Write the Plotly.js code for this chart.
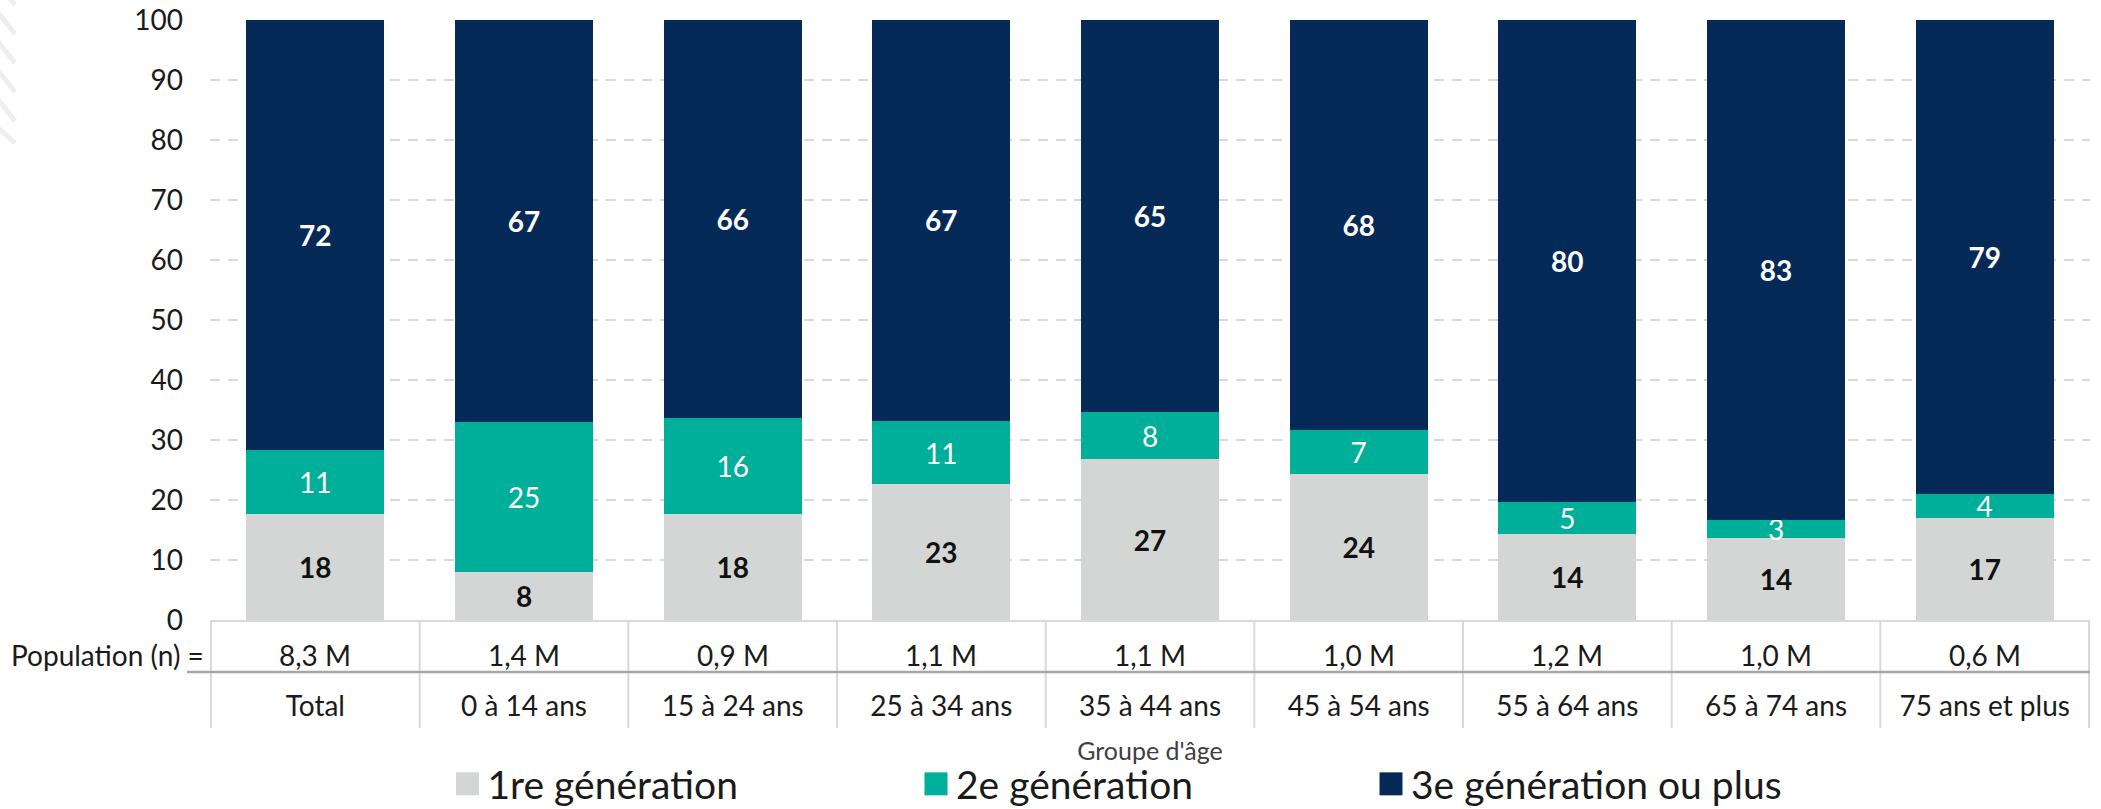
<!DOCTYPE html>
<html>
<head>
<meta charset="utf-8">
<script src="https://cdn.plot.ly/plotly-3.0.1.min.js"></script>
<style>
  html, body { margin: 0; padding: 0; background: #ffffff; }
  #chart { width: 2101px; height: 809px; }
</style>
</head>
<body>
<div id="chart"></div>
<script>
// ---- Data ----
const categories = ['Total', '0 à 14 ans', '15 à 24 ans', '25 à 34 ans', '35 à 44 ans',
                    '45 à 54 ans', '55 à 64 ans', '65 à 74 ans', '75 ans et plus'];
const population = ['8,3 M', '1,4 M', '0,9 M', '1,1 M', '1,1 M', '1,0 M', '1,2 M', '1,0 M', '0,6 M'];
const gen1 = [17.6, 8.0, 17.6, 22.6, 26.8, 24.4, 14.4, 13.6, 17.0];
const gen2 = [10.8, 25.0, 16.1, 10.6, 7.8, 7.3, 5.2, 3.1, 4.0];
const gen3 = [71.6, 67.0, 66.3, 66.8, 65.4, 68.3, 80.4, 83.3, 79.0];
const seriesNames = ['1re génération', '2e génération', '3e génération ou plus'];
const populationLabel = 'Population (n) =';
const xTitle = "Groupe d'âge";
const yTicks = [0, 10, 20, 30, 40, 50, 60, 70, 80, 90, 100];

// ---- Layout geometry (pixels) ----
const W = 2101, H = 809;
const M = { l: 210, r: 11, t: 20, b: 189, autoexpand: false };
const plotW = W - M.l - M.r, plotH = H - M.t - M.b;
const px2x = p => (p - M.l) / plotW;          // pixel x -> paper x
const px2y = p => (H - M.b - p) / plotH;      // pixel y -> paper y

const FONT = 'Lato, "Open Sans", sans-serif';
const colors = ['#d4d6d5', '#00af9a', '#062a57'];
const labelColors = ['#111111', '#ffffff', '#ffffff'];
const labelWeights = ['bold', 'normal', 'bold'];

const values = [gen1, gen2, gen3];
const legendIds = ['legend', 'legend2', 'legend3'];
const traces = values.map((v, i) => ({
  type: 'bar',
  name: seriesNames[i],
  x: categories,
  y: v,
  marker: { color: colors[i], line: { width: 0 } },
  texttemplate: '%{y:.0f}',
  textposition: 'inside',
  insidetextanchor: 'middle',
  constraintext: 'none',
  textangle: 0,
  textfont: { family: FONT, size: 28, color: labelColors[i], weight: labelWeights[i] },
  hoverinfo: 'skip',
  legend: legendIds[i]
}));

// ---- Shapes: table lines + decorative stripes ----
const shapes = [];
const tableTop = px2y(621), tableBottom = px2y(728);
for (let k = 0; k <= categories.length; k++) {
  shapes.push({
    type: 'line', xref: 'x', yref: 'paper',
    x0: k - 0.5, x1: k - 0.5, y0: tableTop, y1: tableBottom,
    line: { color: '#d9d9d9', width: 2 }
  });
}
shapes.push({
  type: 'line', xref: 'paper', yref: 'paper',
  x0: px2x(187), x1: 1, y0: px2y(672), y1: px2y(672),
  line: { color: '#a6a6a6', width: 2.5 }
});
[-14, 15, 44, 73, 102, 131].forEach((y0, i) => {
  shapes.push({
    type: 'line', xref: 'paper', yref: 'paper',
    x0: px2x(-4), y0: px2y(y0 - 5), x1: px2x(15), y1: px2y(y0 + (i === 5 ? 12 : 19)),
    line: { color: '#eeeeee', width: 5 }, layer: 'below'
  });
});

// ---- Annotations: population row ----
const annotations = population.map((p, i) => ({
  x: categories[i], xref: 'x', y: px2y(655), yref: 'paper',
  text: p, showarrow: false, xanchor: 'center', yanchor: 'middle',
  font: { family: FONT, size: 28, color: '#1a1a1a' }
}));
annotations.push({
  x: px2x(206), xref: 'paper', y: px2y(655), yref: 'paper',
  text: populationLabel, showarrow: false, xanchor: 'right', yanchor: 'middle',
  font: { family: FONT, size: 28, color: '#1a1a1a' }
});

// ---- Legends (three, positioned like the original) ----
const legendCenters = [467.5, 936, 1391];
const legendBase = {
  orientation: 'h', xanchor: 'left', yanchor: 'middle',
  y: px2y(784), bgcolor: 'rgba(0,0,0,0)', borderwidth: 0,
  font: { family: FONT, size: 39, color: '#1a1a1a' }
};
const layout = {
  width: W, height: H,
  margin: M,
  paper_bgcolor: '#ffffff',
  plot_bgcolor: '#ffffff',
  barmode: 'stack',
  bargap: 0.34,
  font: { family: FONT, color: '#1a1a1a' },
  showlegend: true,
  xaxis: {
    type: 'category',
    tickvals: categories,
    ticktext: categories,
    showgrid: false,
    zeroline: false,
    showline: true,
    linecolor: '#d9d9d9',
    linewidth: 2,
    ticks: '',
    automargin: false,
    ticklabelstandoff: 60,
    tickfont: { family: FONT, size: 28, color: '#1a1a1a' },
    title: { text: xTitle, font: { family: FONT, size: 25, color: '#404040' }, standoff: 22 },
    fixedrange: true
  },
  yaxis: {
    range: [0, 100],
    tickvals: yTicks,
    ticktext: yTicks.map(String),
    showgrid: true,
    gridcolor: '#d9d9d9',
    gridwidth: 2,
    griddash: '10px,8px',
    zeroline: false,
    showline: false,
    ticks: '',
    automargin: false,
    ticklabelstandoff: 26,
    tickfont: { family: FONT, size: 28, color: '#1a1a1a' },
    fixedrange: true
  },
  shapes: shapes,
  annotations: annotations
};
legendIds.forEach((id, i) => {
  layout[id] = Object.assign({}, legendBase, { x: px2x(legendCenters[i] - 20) });
});

Plotly.newPlot('chart', traces, layout, { displayModeBar: false, staticPlot: true }).then(gd => {
  // enlarge legend squares to match the original's bigger swatches
  gd.querySelectorAll('.legendpoints path').forEach(p => {
    p.setAttribute('d', 'M11.5,11.5H-11.5V-11.5H11.5Z');
  });
});
</script>
</body>
</html>
